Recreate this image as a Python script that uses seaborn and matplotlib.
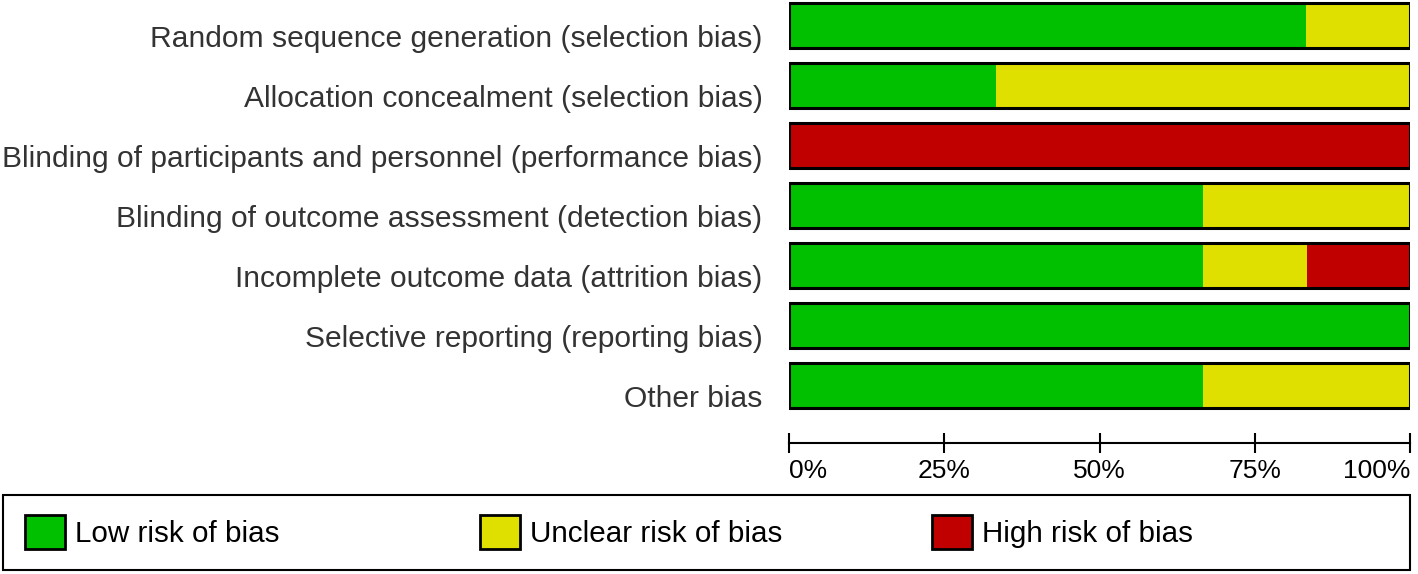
import numpy as np
import pandas as pd
import matplotlib
matplotlib.use("Agg")
import matplotlib.pyplot as plt
import matplotlib.transforms as mtransforms
from matplotlib.patches import Patch, Rectangle
import seaborn as sns

# ==============================
# DATA (percent of studies)
# ==============================

domains = [
    "Random sequence generation (selection bias)",
    "Allocation concealment (selection bias)",
    "Blinding of participants and personnel (performance bias)",
    "Blinding of outcome assessment (detection bias)",
    "Incomplete outcome data (attrition bias)",
    "Selective reporting (reporting bias)",
    "Other bias",
]
low = [83.3, 33.3, 0.0, 66.7, 66.7, 100.0, 66.7]
unclear = [16.7, 66.7, 0.0, 33.3, 16.7, 0.0, 33.3]
high = [0.0, 0.0, 100.0, 0.0, 16.6, 0.0, 0.0]

tick_values = [0, 25, 50, 75, 100]
tick_labels = ["0%", "25%", "50%", "75%", "100%"]
legend_labels = ["Low risk of bias", "Unclear risk of bias", "High risk of bias"]

GREEN = "#00c000"
YELLOW = "#e0e000"
RED = "#c00000"
TEXT = "#333333"

# ==============================
# STACKED BARS
# ==============================

sns.set_style("white")
plt.rcParams["font.family"] = ["Liberation Sans", "DejaVu Sans"]

df = pd.DataFrame({"domain": domains, "low": low, "unclear": unclear, "high": high})
df["low_unclear"] = df["low"] + df["unclear"]
df["total"] = df["low_unclear"] + df["high"]

W, H = 1418, 574
fig = plt.figure(figsize=(W / 100, H / 100), dpi=100)
ax = fig.add_axes([789 / W, 1 - 443 / H, (1410 - 789) / W, 443 / H])

# draw from the full bar down so each segment shows on top of the next
sns.barplot(data=df, x="total", y="domain", orient="h", color=RED,
            width=0.75, linewidth=0, saturation=1, ax=ax)
sns.barplot(data=df, x="low_unclear", y="domain", orient="h", color=YELLOW,
            width=0.75, linewidth=0, saturation=1, ax=ax)
sns.barplot(data=df, x="low", y="domain", orient="h", color=GREEN,
            width=0.75, linewidth=0, saturation=1, ax=ax)
# black outline round the whole bar
sns.barplot(data=df, x="total", y="domain", orient="h", color="black",
            fill=False, width=0.75, linewidth=2.2, ax=ax)

ax.set_xlim(0, 100)
ax.set_ylim(6.958, -0.425)
ax.set_xlabel("")
ax.set_ylabel("")

for side in ["top", "right", "left"]:
    ax.spines[side].set_visible(False)
ax.spines["bottom"].set_linewidth(1.5)
ax.spines["bottom"].set_color("black")

ax.set_xticks(tick_values)
ax.set_xticklabels(tick_labels, fontsize=19, color="black")
ax.tick_params(axis="x", bottom=True, direction="inout", length=15,
               width=1.5, pad=4, color="black")
labels = ax.get_xticklabels()
labels[0].set_horizontalalignment("left")
labels[-1].set_horizontalalignment("right")

ax.tick_params(axis="y", left=False, length=0, pad=19, labelsize=21.6,
               labelcolor=TEXT)
# labels sit a little below the bar centre in the original
shift = mtransforms.ScaledTranslation(0, -0.10, fig.dpi_scale_trans)
for lab in ax.get_yticklabels():
    lab.set_transform(lab.get_transform() + shift)

# ==============================
# LEGEND
# ==============================

fig.patches.append(Rectangle((3 / W, 1 - 570 / H), 1407 / W, 75 / H,
                             transform=fig.transFigure, fill=False,
                             edgecolor="black", linewidth=1.5))

colors = [GREEN, YELLOW, RED]
starts = [25, 480, 932]
for col, lab, x0 in zip(colors, legend_labels, starts):
    h = Patch(facecolor=col, edgecolor="black", linewidth=2)
    fig.legend([h], [lab], loc="center left",
               bbox_to_anchor=(x0 / W, 1 - 532 / H), frameon=False,
               fontsize=21.3, borderpad=0, borderaxespad=0,
               handlelength=40 * 0.72 / 21.3, handleheight=40 * 0.72 / 21.3,
               handletextpad=0.35, labelcolor="black")

plt.savefig("out.png", dpi=100)
